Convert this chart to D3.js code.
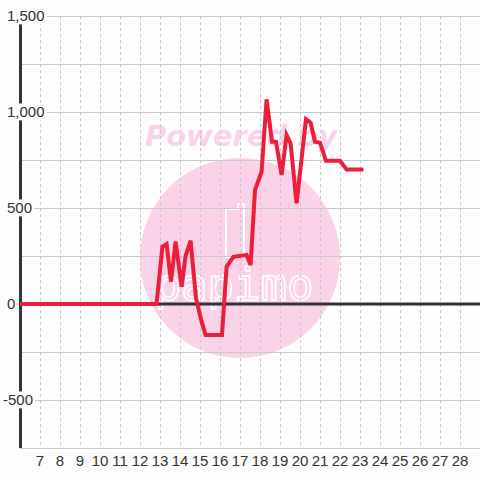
<!DOCTYPE html>
<html><head><meta charset="utf-8">
<script src="https://cdn.jsdelivr.net/npm/d3@7/dist/d3.min.js"></script>
<style>body{margin:0;background:#fdfdfd}svg{display:block}</style>
</head><body>
<script>
// Data (x in axis units, y values)
const xs = [6, 12.83, 13.12, 13.33, 13.55, 13.78, 14.08, 14.28, 14.53, 14.8, 15.08, 15.28, 16.1, 16.33, 16.67, 17.33, 17.53, 17.75, 18.08, 18.33, 18.6, 18.8, 19.08, 19.33, 19.53, 19.83, 20.3, 20.53, 20.75, 21.0, 21.3, 22.0, 22.33, 23.17];
const ys = [0, 0, 298, 312, 116, 325, 90, 250, 330, 30, -92, -161, -161, 194, 246, 255, 203, 594, 689, 1066, 845, 845, 672, 880, 837, 524, 962, 944, 845, 840, 746, 746, 701, 701];
const yTickLabels = [-500, 0, 500, 1000, 1500];
const yGrid = [-750, -500, -250, 0, 250, 500, 750, 1000, 1250, 1500];
const xTickLabels = [7,8,9,10,11,12,13,14,15,16,17,18,19,20,21,22,23,24,25,26,27,28];

const W = 480, H = 480;
const x = d3.scaleLinear().domain([6, 29]).range([20, 480]);
const y = d3.scaleLinear().domain([-750, 1500]).range([448, 16]);

const svg = d3.select("body").append("svg").attr("width", W).attr("height", H);
svg.append("rect").attr("width", W).attr("height", H).attr("fill", "#fdfdfd");

// watermark
const wm = svg.append("g");
wm.append("circle").attr("cx", 240).attr("cy", 258).attr("r", 100).attr("fill", "#fad3e9");
wm.append("text").attr("x", 241).attr("y", 146).attr("text-anchor", "middle")
  .attr("font-family", "DejaVu Sans, sans-serif").attr("font-weight", "bold")
  .attr("font-style", "italic").attr("font-size", 29).attr("fill", "#fad3e9").text("Powered by");
wm.append("path").attr("d", "M226,209 L238,209 L238,204 L244,204 L244,257 L226,257 Z")
  .attr("fill", "none").attr("stroke", "#fff").attr("stroke-width", 2);
wm.append("text").attr("x", 234).attr("y", 300).attr("text-anchor", "middle")
  .attr("font-family", "DejaVu Sans Mono, monospace").attr("font-size", 44)
  .attr("fill", "none").attr("stroke", "#fff").attr("stroke-width", 1.5).text("papimo");

// gridlines
svg.append("g").selectAll("line").data(yGrid).join("line")
  .attr("x1", 20).attr("x2", 480).attr("y1", d => y(d) + 0.5).attr("y2", d => y(d) + 0.5)
  .attr("stroke", "#c8c8c8").attr("stroke-width", 1);
svg.append("g").selectAll("line").data(xTickLabels).join("line")
  .attr("x1", d => x(d) + 0.5).attr("x2", d => x(d) + 0.5).attr("y1", 16).attr("y2", 448)
  .attr("stroke", "#c8c8c8").attr("stroke-width", 1).attr("stroke-dasharray", "3,3");

// axis lines
svg.append("line").attr("x1", 20.5).attr("x2", 20.5).attr("y1", 16).attr("y2", 448)
  .attr("stroke", "#333").attr("stroke-width", 3);
svg.append("line").attr("x1", 20).attr("x2", 480).attr("y1", y(0)).attr("y2", y(0))
  .attr("stroke", "#333").attr("stroke-width", 3);

// data line
const pts = xs.map((d, i) => [d, ys[i]]);
svg.append("path").datum(pts)
  .attr("d", d3.line().x(d => x(d[0])).y(d => y(d[1])))
  .attr("fill", "none").attr("stroke", "#ec1e39").attr("stroke-width", 4)
  .attr("stroke-linejoin", "miter");

// y labels with background boxes
const fmt = v => d3.format(",")(v).replace("\u2212", "-");
const yl = svg.append("g").attr("font-family", "Liberation Sans, Arial, sans-serif")
  .attr("font-size", 15).attr("fill", "#333");
yTickLabels.forEach(v => {
  const t = yl.append("text").attr("x", v < 0 ? 3 : 7).attr("y", y(v)).attr("dy", "0.36em").text(fmt(v));
  const b = t.node().getBBox();
  yl.insert("rect", "text").attr("x", b.x - 2).attr("y", b.y).attr("width", b.width + 4).attr("height", b.height)
    .attr("fill", "#fdfdfd");
});

// x labels
svg.append("g").attr("font-family", "Liberation Sans, Arial, sans-serif")
  .attr("font-size", 15).attr("fill", "#333")
  .selectAll("text").data(xTickLabels).join("text")
  .attr("x", d => x(d)).attr("y", 466).attr("text-anchor", "middle").text(d => d);
</script>
</body></html>
